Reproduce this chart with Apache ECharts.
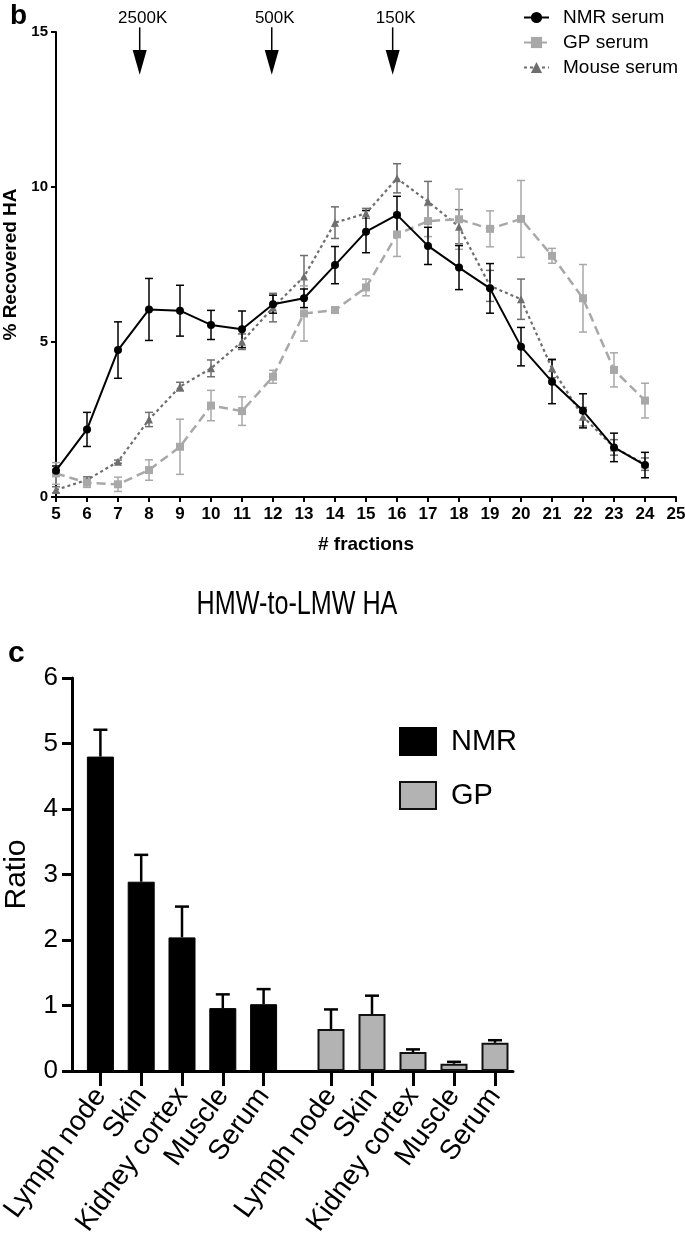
<!DOCTYPE html>
<html><head><meta charset="utf-8">
<script src="https://cdn.jsdelivr.net/npm/echarts@6/dist/echarts.min.js"></script>
<style>html,body{margin:0;padding:0;background:#fff}#c{width:685px;height:1238px}</style>
</head><body><div id="c"></div>
<script>
// ---- Panel b data ----
const fractions = [5,6,7,8,9,10,11,12,13,14,15,16,17,18,19,20,21,22,23,24];
const nmrSerum    = [0.85,2.18,4.74,6.05,6.01,5.55,5.41,6.22,6.41,7.48,8.56,9.10,8.10,7.40,6.73,4.85,3.72,2.78,1.60,1.03];
const nmrSerumErr = [0.15,0.55,0.91,1.00,0.82,0.47,0.59,0.29,0.30,0.60,0.68,0.60,0.60,0.71,0.80,0.62,0.71,0.55,0.46,0.41];
const gpSerum     = [0.76,0.46,0.41,0.87,1.62,2.95,2.77,3.88,5.92,6.03,6.76,8.47,8.90,8.96,8.65,8.97,7.78,6.41,4.10,3.11];
const gpSerumErr  = [0.35,0.15,0.23,0.33,0.89,0.49,0.46,0.21,0.89,0.10,0.27,0.71,0.50,0.97,0.58,1.24,0.24,1.09,0.55,0.56];
const mouseSerum  = [0.23,0.55,1.14,2.50,3.56,4.15,5.01,6.11,7.11,8.85,9.15,10.28,9.53,8.72,6.81,6.38,4.15,2.59,1.60,1.06];
const mouseSerumErr=[0.10,0.10,0.05,0.23,0.14,0.27,0.25,0.46,0.68,0.51,0.16,0.47,0.65,0.55,0.50,0.65,0.30,0.30,0.25,0.20];
const arrowMarks = [{label:'2500K', x:7.7},{label:'500K', x:11.96},{label:'150K', x:15.86}];
// ---- Panel c data ----
const tissues = ['Lymph node','Skin','Kidney cortex','Muscle','Serum'];
const nmrRatio    = [4.80,2.89,2.04,0.96,1.02];
const nmrRatioErr = [0.41,0.41,0.47,0.21,0.23];
const gpRatio     = [0.64,0.87,0.29,0.11,0.43];
const gpRatioErr  = [0.30,0.28,0.04,0.03,0.04];

const F = 'Liberation Sans, Arial, sans-serif';

function errSeries(xs, ys, es, color, half, xi, yi, upOnly, lw){
  return {
    type:'custom', xAxisIndex:xi, yAxisIndex:yi, z: 1, silent:true,
    data: xs.map((x,i)=>[x, ys[i], es[i]]),
    renderItem: function(params, api){
      const x=api.value(0), y=api.value(1), e=api.value(2);
      const t=api.coord([x,y+e]);
      const b=upOnly? api.coord([x,y]) : api.coord([x,y-e]);
      const ch=[{type:'line',shape:{x1:t[0],y1:t[1],x2:b[0],y2:b[1]},style:{stroke:color,lineWidth:lw}},
        {type:'line',shape:{x1:t[0]-half,y1:t[1],x2:t[0]+half,y2:t[1]},style:{stroke:color,lineWidth:lw}}];
      if(!upOnly) ch.push({type:'line',shape:{x1:b[0]-half,y1:b[1],x2:b[0]+half,y2:b[1]},style:{stroke:color,lineWidth:lw}});
      return {type:'group',children:ch};
    }
  };
}

const chart = echarts.init(document.getElementById('c'));
const catAxis = gi => ({
  type:'category', gridIndex:gi, data:tissues, boundaryGap:true,
  axisLine:{show:false},
  axisTick:{show:true, alignWithLabel:true, length:15, lineStyle:{color:'#000', width:3}},
  axisLabel:{rotate:54, margin:20, fontSize:28, fontFamily:F, color:'#000', interval:0},
  splitLine:{show:false}
});
const hiddenY = gi => ({type:'value', gridIndex:gi, min:0, max:6, show:false});

chart.setOption({
  animation:false,
  title:[
    {text:'b', left:5, top:-3, textStyle:{fontSize:28, fontWeight:'bold', fontFamily:F, color:'#000'}},
    {text:'c', left:3, top:634, textStyle:{fontSize:30, fontWeight:'bold', fontFamily:F, color:'#000'}}
  ],
  legend:[
    {orient:'vertical', left:518, top:3, itemWidth:25, itemHeight:14, itemGap:6,
     data:['NMR serum','GP serum','Mouse serum'],
     textStyle:{fontSize:19, fontFamily:F, color:'#000', padding:[0,0,0,9]}},
    {orient:'vertical', left:394, top:722, itemWidth:36, itemHeight:27, itemGap:25,
     data:['NMR','GP'], icon:'rect',
     textStyle:{fontSize:29, fontFamily:F, color:'#000', padding:[0,0,0,10]}}
  ],
  grid:[
    {left:56, right:9, top:32, bottom:741, outerBoundsMode:'none', containLabel:false},
    {left:72, width:441, top:678, bottom:167, outerBoundsMode:'none', containLabel:false},
    {left:80, width:204, top:678, bottom:167, outerBoundsMode:'none', containLabel:false},
    {left:310.5, width:205, top:678, bottom:167, outerBoundsMode:'none', containLabel:false}
  ],
  xAxis:[
    {type:'value', gridIndex:0, min:5, max:25, interval:1,
     name:'# fractions', nameLocation:'middle', nameGap:38,
     nameTextStyle:{fontSize:19, fontWeight:'bold', fontFamily:F, color:'#000'},
     axisLine:{lineStyle:{color:'#000', width:2}},
     axisTick:{length:5, lineStyle:{color:'#000', width:2}},
     axisLabel:{fontSize:17, fontWeight:'bold', fontFamily:F, color:'#000', margin:9},
     splitLine:{show:false}},
    {type:'value', gridIndex:1, min:0, max:1, axisLine:{show:true, onZero:false, lineStyle:{color:'#000', width:3}},
     axisTick:{show:false}, axisLabel:{show:false}, splitLine:{show:false}},
    catAxis(2), catAxis(3)
  ],
  yAxis:[
    {type:'value', gridIndex:0, min:0, max:15, interval:5,
     name:'% Recovered HA', nameLocation:'middle', nameGap:36,
     nameTextStyle:{fontSize:19, fontWeight:'bold', fontFamily:F, color:'#000'},
     axisLine:{show:true, lineStyle:{color:'#000', width:2}},
     axisTick:{show:true, length:5, lineStyle:{color:'#000', width:2}},
     axisLabel:{fontSize:15, fontWeight:'bold', fontFamily:F, color:'#000', margin:8},
     splitLine:{show:false}},
    {type:'value', gridIndex:1, min:0, max:6, interval:1,
     name:'Ratio', nameLocation:'middle', nameGap:40,
     nameTextStyle:{fontSize:30, fontFamily:F, color:'#000'},
     axisLine:{show:true, lineStyle:{color:'#000', width:3}},
     axisTick:{show:true, length:10, lineStyle:{color:'#000', width:3}},
     axisLabel:{fontSize:26, fontFamily:F, color:'#000', margin:14},
     splitLine:{show:false}},
    hiddenY(2), hiddenY(3)
  ],
  series:[
    errSeries(fractions, mouseSerum, mouseSerumErr, '#6e6e6e', 4, 0, 0, false, 1.5),
    errSeries(fractions, gpSerum, gpSerumErr, '#a8a8a8', 4, 0, 0, false, 1.5),
    errSeries(fractions, nmrSerum, nmrSerumErr, '#000', 4, 0, 0, false, 1.5),
    {name:'Mouse serum', type:'line', xAxisIndex:0, yAxisIndex:0, z:3,
     data:fractions.map((x,i)=>[x,mouseSerum[i]]), symbol:'triangle', symbolSize:8,
     lineStyle:{color:'#6e6e6e', width:2.2, type:[3,3]}, itemStyle:{color:'#6e6e6e'}},
    {name:'GP serum', type:'line', xAxisIndex:0, yAxisIndex:0, z:4,
     data:fractions.map((x,i)=>[x,gpSerum[i]]), symbol:'rect', symbolSize:8,
     lineStyle:{color:'#a8a8a8', width:2.5, type:[9,5]}, itemStyle:{color:'#a8a8a8'}},
    {name:'NMR serum', type:'line', xAxisIndex:0, yAxisIndex:0, z:5,
     data:fractions.map((x,i)=>[x,nmrSerum[i]]), symbol:'circle', symbolSize:8,
     lineStyle:{color:'#000', width:2}, itemStyle:{color:'#000'}},
    {name:'NMR', type:'bar', xAxisIndex:2, yAxisIndex:2, data:nmrRatio, barWidth:27, z:2,
     itemStyle:{color:'#000', borderColor:'#000', borderWidth:1}},
    {name:'GP', type:'bar', xAxisIndex:3, yAxisIndex:3, data:gpRatio, barWidth:27, z:2,
     itemStyle:{color:'#b3b3b3', borderColor:'#111', borderWidth:2}},
    errSeries(tissues.map((t,i)=>i), nmrRatio, nmrRatioErr, '#000', 7, 2, 2, true, 2.5),
    errSeries(tissues.map((t,i)=>i), gpRatio, gpRatioErr, '#000', 7, 3, 3, true, 2.5)
  ]
});

// annotations placed through the axis scales
const g = [];
arrowMarks.forEach(a=>{
  const top = chart.convertToPixel({gridIndex:0}, [a.x, 15.15]);
  const hb  = chart.convertToPixel({gridIndex:0}, [a.x, 14.42]);
  const tip = chart.convertToPixel({gridIndex:0}, [a.x, 13.62]);
  const lab = chart.convertToPixel({gridIndex:0}, [a.x, 15.45]);
  g.push({type:'line', shape:{x1:top[0], y1:top[1], x2:hb[0], y2:hb[1]}, style:{stroke:'#000', lineWidth:1.5}});
  g.push({type:'polygon', shape:{points:[[hb[0]-7,hb[1]],[hb[0]+7,hb[1]],[tip[0],tip[1]]]}, style:{fill:'#000'}});
  g.push({type:'text', x:lab[0]+3, y:lab[1], style:{text:a.label, fontSize:17, fontFamily:F, fill:'#000', align:'center', verticalAlign:'middle'}});
});
// panel c title (condensed look via horizontal scale around its own anchor)
g.push({type:'text', x:297, y:605, scaleX:0.74,
  style:{text:'HMW-to-LMW HA', fontSize:34, fontFamily:F, fill:'#000', align:'center', verticalAlign:'middle'}});
chart.setOption({graphic:g});
</script></body></html>
